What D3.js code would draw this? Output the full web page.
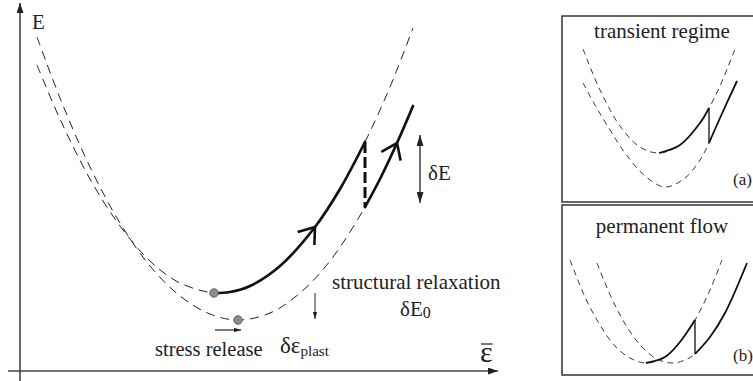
<!DOCTYPE html>
<html>
<head>
<meta charset="utf-8">
<script src="https://cdn.jsdelivr.net/npm/d3@7"></script>
<style>
html, body { margin: 0; padding: 0; background: #fff; }
svg { display: block; }
</style>
</head>
<body>
<svg id="chart" width="753" height="381" font-family="'Liberation Serif', 'DejaVu Serif', serif"></svg>
<script>
// main sketch: strain (x) vs energy (y), arbitrary units from the axis origin
var basinBefore = [[17,306],[40,252],[70,192],[100,145],[130,110],[160,88],[198,78],[230,85],[260,105],[290,137],[320,182],[345,229],[370,284],[393,343]];
var basinAfter = [[17,334],[40,273],[70,204],[100,148],[130,105],[160,75],[190,57],[218,51],[250,58],[280,78],[310,110],[345,164],[370,213],[393,265]];
var loadBefore = [[194,78],[210,79],[230,85],[260,105],[295,144],[320,182],[345,229]];
var loadAfter = [[345,164],[360,192],[377,228],[393,265]];
var jump = [[345,229],[345,164]];
var states = [[194,78],[218,51]];
var arrowIdx = [[loadBefore, 4], [loadAfter, 2]];
var deltaE = [[400,236],[400,168]];
var relax = [[295,78],[295,52]];
var slip = [[195,41],[221,41]];

// insets, local units from the box corner
var transientBefore = [[21,153],[38,112],[58,76],[78,55],[97,49],[118,57],[138,79],[147,94],[158,116],[173,153]];
var transientAfter = [[21,119],[33,97],[48,72],[63,49],[83,26],[103,15],[123,24],[138,42],[147,59],[158,84],[175,121]];
var transientLoad1 = [[97,49],[118,57],[138,79],[147,94]];
var transientLoad2 = [[147,59],[158,84],[175,121]];
var transientJump = [[147,94],[147,59]];

var flowBefore = [[8,115],[23,78],[38,50],[53,29],[68,17],[84,12],[103,18],[118,33],[133,55],[148,85],[160,115]];
var flowAfter = [[35,112],[50,76],[65,48],[80,28],[95,16],[110,12],[123,15],[133,21],[148,38],[163,62],[185,112]];
var flowLoad1 = [[84,12],[103,18],[118,33],[133,55]];
var flowLoad2 = [[133,21],[148,38],[163,62],[185,112]];
var flowJump = [[133,55],[133,21]];

var ink = '#222';
var serif = "'Liberation Serif', 'DejaVu Serif', serif";
var svg = d3.select('#chart');
var defs = svg.append('defs');

function marker(id, len, wid) {
    defs.append('marker')
        .attr('id', id)
        .attr('viewBox', '0 0 ' + len + ' ' + wid)
        .attr('refX', len).attr('refY', wid / 2)
        .attr('markerWidth', len).attr('markerHeight', wid)
        .attr('markerUnits', 'userSpaceOnUse')
        .attr('orient', 'auto-start-reverse')
      .append('path')
        .attr('d', 'M0,0L' + len + ',' + (wid / 2) + 'L0,' + wid + 'Z')
        .attr('fill', ink);
}
marker('axisHead', 10, 7);
marker('bigHead', 11, 7);
marker('smallHead', 7, 4.5);

var x = d3.scaleLinear().domain([0, 410]).range([20, 430]),
    y = d3.scaleLinear().domain([0, 366]).range([371, 5]);

var smooth = d3.line()
    .x(function(d) { return x(d[0]); })
    .y(function(d) { return y(d[1]); })
    .curve(d3.curveCatmullRom.alpha(0.5));

var main = svg.append('g').attr('class', 'main');

// axes (no ticks, just arrows)
main.append('line')
    .attr('x1', x(0)).attr('y1', y(-10)).attr('x2', x(0)).attr('y2', y(368))
    .attr('stroke', '#444').attr('stroke-width', 1.6)
    .attr('marker-end', 'url(#axisHead)');
main.append('line')
    .attr('x1', x(-12)).attr('y1', y(0)).attr('x2', x(478)).attr('y2', y(0))
    .attr('stroke', '#444').attr('stroke-width', 1.6)
    .attr('marker-end', 'url(#axisHead)');

// energy basins
main.selectAll('path.basin')
    .data([basinBefore, basinAfter])
    .enter().append('path')
    .attr('class', 'basin')
    .attr('d', smooth)
    .attr('fill', 'none')
    .attr('stroke', ink)
    .attr('stroke-width', 1)
    .attr('stroke-dasharray', '9,6');

// loading path
main.selectAll('path.load')
    .data([loadBefore, loadAfter])
    .enter().append('path')
    .attr('class', 'load')
    .attr('d', smooth)
    .attr('fill', 'none')
    .attr('stroke', '#111')
    .attr('stroke-width', 2.7)
    .attr('stroke-linecap', 'round');

main.append('path')
    .attr('d', d3.line().x(function(d) { return x(d[0]); }).y(function(d) { return y(d[1]); })(jump))
    .attr('stroke', '#111')
    .attr('stroke-width', 3)
    .attr('stroke-dasharray', '11,4');

// open chevrons along the path
function chevron(item) {
    var pts = item[0], i = item[1];
    var p = [x(pts[i][0]), y(pts[i][1])],
        a = [x(pts[i - 1][0]), y(pts[i - 1][1])],
        b = [x(pts[i + 1][0]), y(pts[i + 1][1])];
    var back = Math.atan2(a[1] - b[1], a[0] - b[0]),
        len = 18, spread = 36 * Math.PI / 180;
    return 'M' + (p[0] + len * Math.cos(back + spread)) + ',' + (p[1] + len * Math.sin(back + spread)) +
        'L' + p[0] + ',' + p[1] +
        'L' + (p[0] + len * Math.cos(back - spread)) + ',' + (p[1] + len * Math.sin(back - spread));
}
main.selectAll('path.chev')
    .data(arrowIdx)
    .enter().append('path')
    .attr('class', 'chev')
    .attr('d', chevron)
    .attr('fill', 'none')
    .attr('stroke', '#111')
    .attr('stroke-width', 2.6)
    .attr('stroke-linejoin', 'miter');

// states
main.selectAll('circle.state')
    .data(states)
    .enter().append('circle')
    .attr('class', 'state')
    .attr('cx', function(d) { return x(d[0]); })
    .attr('cy', function(d) { return y(d[1]); })
    .attr('r', 4.3)
    .attr('fill', '#8c8c8c')
    .attr('stroke', '#555')
    .attr('stroke-width', 0.8);

// annotation arrows
function arrowLine(pts, head, w, both) {
    var l = main.append('line')
        .attr('x1', x(pts[0][0])).attr('y1', y(pts[0][1]))
        .attr('x2', x(pts[1][0])).attr('y2', y(pts[1][1]))
        .attr('stroke', ink).attr('stroke-width', w)
        .attr('marker-end', 'url(#' + head + ')');
    if(both) l.attr('marker-start', 'url(#' + head + ')');
}
arrowLine(deltaE, 'bigHead', 1.3, true);
arrowLine(relax, 'smallHead', 1, false);
arrowLine(slip, 'smallHead', 1.2, false);

// labels
function label(pos, size) {
    return main.append('text')
        .attr('x', x(pos[0])).attr('y', y(pos[1]))
        .attr('font-family', serif)
        .attr('font-size', size)
        .attr('fill', ink);
}
label([12, 342], 21).text('E');
label([408, 191], 21).text('δE');
label([312, 82], 21).text('structural relaxation');
var e0 = label([380, 55], 21);
e0.append('tspan').text('δE');
e0.append('tspan').attr('dy', 1.5).attr('font-size', 16).text('0');
label([135, 15], 20.5).text('stress release');
var ep = label([260, 18], 23);
ep.append('tspan').text('δε');
ep.append('tspan').attr('dy', 3).attr('font-size', 15).text('plast');
var eb = label([460, 9], 30).text('ε');
var bb = eb.node().getBBox();
main.append('line')
    .attr('x1', bb.x + 1).attr('x2', bb.x + bb.width)
    .attr('y1', y(27)).attr('y2', y(27))
    .attr('stroke', ink).attr('stroke-width', 1.2);

// insets
function inset(top, bottom, title, titleDrop, tag, tagY, before, after, load1, load2, jmp) {
    var ix = d3.scaleLinear().domain([0, 190]).range([562, 752]),
        iy = d3.scaleLinear().domain([0, bottom - top]).range([bottom, top]);
    var g = svg.append('g').attr('class', 'inset');
    var line = d3.line()
        .x(function(d) { return ix(d[0]); })
        .y(function(d) { return iy(d[1]); })
        .curve(d3.curveCatmullRom.alpha(0.5));

    g.append('rect')
        .attr('x', ix(0)).attr('y', iy(bottom - top))
        .attr('width', 200).attr('height', bottom - top)
        .attr('fill', 'none').attr('stroke', '#333').attr('stroke-width', 1.5);

    g.selectAll('path.basin')
        .data([before, after])
        .enter().append('path')
        .attr('d', line)
        .attr('fill', 'none').attr('stroke', ink)
        .attr('stroke-width', 0.9).attr('stroke-dasharray', '6,4.5');

    g.selectAll('path.load')
        .data([load1, load2])
        .enter().append('path')
        .attr('d', line)
        .attr('fill', 'none').attr('stroke', '#111').attr('stroke-width', 1.8);

    g.append('path')
        .attr('d', d3.line().x(function(d) { return ix(d[0]); }).y(function(d) { return iy(d[1]); })(jmp))
        .attr('stroke', '#111').attr('stroke-width', 1.3);

    g.append('text')
        .attr('x', ix(100)).attr('y', iy(bottom - top - titleDrop))
        .attr('text-anchor', 'middle')
        .attr('font-family', serif).attr('font-size', 21).attr('fill', ink)
        .text(title);
    g.append('text')
        .attr('x', ix(171)).attr('y', iy(tagY))
        .attr('font-family', serif).attr('font-size', 17).attr('fill', ink)
        .text(tag);
}
inset(16, 202, 'transient regime', 22, '(a)', 17, transientBefore, transientAfter, transientLoad1, transientLoad2, transientJump);
inset(205, 375, 'permanent flow', 28, '(b)', 14, flowBefore, flowAfter, flowLoad1, flowLoad2, flowJump);
</script>
</body>
</html>
